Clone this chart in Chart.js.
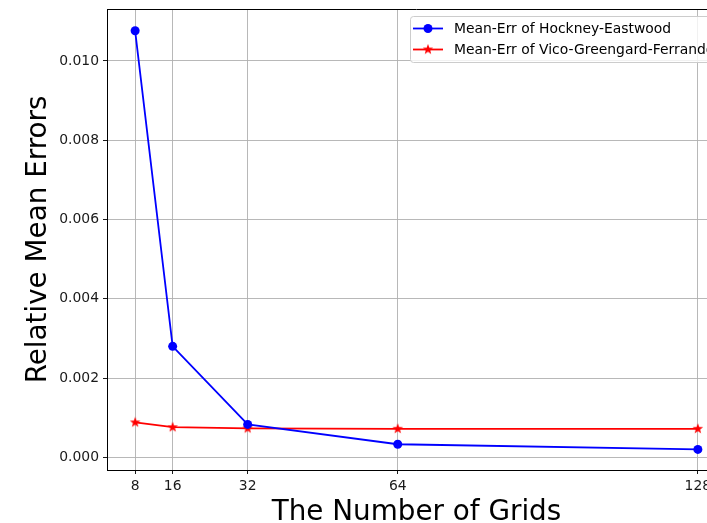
<!DOCTYPE html>
<html>
<head>
<meta charset="utf-8">
<script src="https://cdn.jsdelivr.net/npm/chart.js@4.4.1/dist/chart.umd.min.js"></script>
<style>
  html, body { margin: 0; padding: 0; background: #fff; overflow: hidden; }
  #wrap { position: absolute; left: 0; top: 0; width: 760px; height: 523px; }
</style>
</head>
<body>
<div id="wrap"><canvas id="c" width="760" height="523"></canvas></div>
<script>
// Grid sizes and relative mean errors of the two Poisson solvers
const grids = [8, 16, 32, 64, 128];
const hockneyErr = [0.01076, 0.00280, 0.00083, 0.00033, 0.00020];
const vicoErr = [0.00088, 0.00076, 0.00073, 0.00072, 0.00072];
const xTickValues = [8, 16, 32, 64, 128];
const yTickValues = [0, 0.002, 0.004, 0.006, 0.008, 0.010];
const seriesLabels = ['Mean-Err of Hockney-Eastwood', 'Mean-Err of Vico-Greengard-Ferrando'];

const FONT = 'DejaVu Sans';

// filled five-pointed star marker
function makeStar(size, color) {
  const cv = document.createElement('canvas');
  cv.width = size; cv.height = size;
  const g = cv.getContext('2d');
  const c = size / 2, ro = size / 2 - 0.5, ri = ro * 0.42;
  g.beginPath();
  for (let i = 0; i < 10; i++) {
    const r = i % 2 === 0 ? ro : ri;
    const a = -Math.PI / 2 + i * Math.PI / 5;
    const px = c + r * Math.cos(a), py = c + r * Math.sin(a);
    if (i === 0) g.moveTo(px, py); else g.lineTo(px, py);
  }
  g.closePath();
  g.fillStyle = color;
  g.fill();
  return cv;
}
const redStar = makeStar(12, '#ff0000');

const toPoints = (xs, ys) => xs.map((x, i) => ({ x: x, y: ys[i] }));

// top spine and the in-plot legend box
const framePlugin = {
  id: 'frame',
  afterDraw(chart) {
    const { ctx, chartArea } = chart;
    ctx.save();
    ctx.strokeStyle = '#000';
    ctx.lineWidth = 1;
    ctx.beginPath();
    ctx.moveTo(chartArea.left, Math.round(chartArea.top) + 0.5);
    ctx.lineTo(chartArea.right, Math.round(chartArea.top) + 0.5);
    ctx.stroke();

    const bx = chartArea.right - 316, by = Math.round(chartArea.top) + 7.5, bw = 309, bh = 46;
    ctx.beginPath();
    ctx.roundRect(bx + 0.5, by, bw, bh, 3);
    ctx.fillStyle = 'rgba(255,255,255,0.8)';
    ctx.fill();
    ctx.strokeStyle = '#cccccc';
    ctx.lineWidth = 1;
    ctx.stroke();

    chart.data.datasets.forEach((ds, i) => {
      const y = by + 12 + i * 21;
      const x0 = bx + 3, x1 = bx + 33, xm = (x0 + x1) / 2;
      ctx.strokeStyle = ds.borderColor;
      ctx.lineWidth = 1.8;
      ctx.beginPath();
      ctx.moveTo(x0, y); ctx.lineTo(x1, y);
      ctx.stroke();
      if (ds.pointStyle === 'circle') {
        ctx.beginPath();
        ctx.arc(xm, y, ds.pointRadius, 0, Math.PI * 2);
        ctx.fillStyle = ds.pointBackgroundColor;
        ctx.fill();
      } else {
        ctx.drawImage(ds.pointStyle, xm - ds.pointStyle.width / 2, y - ds.pointStyle.height / 2);
      }
      ctx.fillStyle = '#000';
      ctx.font = '13.9px "' + FONT + '"';
      ctx.textBaseline = 'middle';
      ctx.textAlign = 'left';
      ctx.fillText(ds.label, bx + 44, y + 0.5);
    });
    ctx.restore();
  }
};

new Chart(document.getElementById('c'), {
  type: 'line',
  data: {
    datasets: [
      {
        label: seriesLabels[0],
        data: toPoints(grids, hockneyErr),
        borderColor: '#0000ff',
        backgroundColor: '#0000ff',
        pointBackgroundColor: '#0000ff',
        pointBorderColor: '#0000ff',
        borderWidth: 1.8,
        pointStyle: 'circle',
        pointRadius: 4.5,
        pointBorderWidth: 0,
        tension: 0,
        fill: false
      },
      {
        label: seriesLabels[1],
        data: toPoints(grids, vicoErr),
        borderColor: '#ff0000',
        backgroundColor: '#ff0000',
        pointBackgroundColor: '#ff0000',
        borderWidth: 1.8,
        pointStyle: redStar,
        pointRadius: 6,
        tension: 0,
        fill: false
      }
    ]
  },
  options: {
    responsive: false,
    animation: false,
    devicePixelRatio: 1,
    layout: { padding: { top: 9, right: 34, left: 0, bottom: 0 } },
    plugins: {
      legend: { display: false },
      tooltip: { enabled: false }
    },
    scales: {
      x: {
        type: 'linear',
        min: 2,
        max: 134,
        afterBuildTicks: s => { s.ticks = xTickValues.map(v => ({ value: v })); },
        afterFit: s => { s.height = 53; s.paddingLeft = 0; s.paddingRight = 0; },
        grid: { color: '#b0b0b0', lineWidth: 0.9, tickColor: '#000', tickLength: 4, drawTicks: true },
        border: { color: '#000', width: 1 },
        ticks: {
          color: '#1a1a1a',
          font: { family: FONT, size: 13.9 },
          padding: 4,
          maxRotation: 0,
          autoSkip: false,
          callback: v => String(v)
        },
        title: {
          display: true,
          text: 'The Number of Grids',
          color: '#000',
          font: { family: FONT, size: 27.8, lineHeight: 1 },
          padding: { top: 0, bottom: -4 }
        }
      },
      y: {
        type: 'linear',
        min: -0.00032,
        max: 0.01131,
        afterBuildTicks: s => { s.ticks = yTickValues.map(v => ({ value: v })); },
        afterFit: s => { s.width = 107; s.paddingTop = 0; s.paddingBottom = 0; },
        grid: { color: '#b0b0b0', lineWidth: 0.9, tickColor: '#000', tickLength: 4, drawTicks: true },
        border: { color: '#000', width: 1 },
        ticks: {
          color: '#1a1a1a',
          font: { family: FONT, size: 13.9 },
          padding: 4,
          autoSkip: false,
          callback: v => v.toFixed(3)
        },
        title: {
          display: true,
          text: 'Relative Mean Errors',
          color: '#000',
          font: { family: FONT, size: 27.8, lineHeight: 1 },
          padding: { top: 25, bottom: 0 }
        }
      }
    }
  },
  plugins: [framePlugin]
});
</script>
</body>
</html>
